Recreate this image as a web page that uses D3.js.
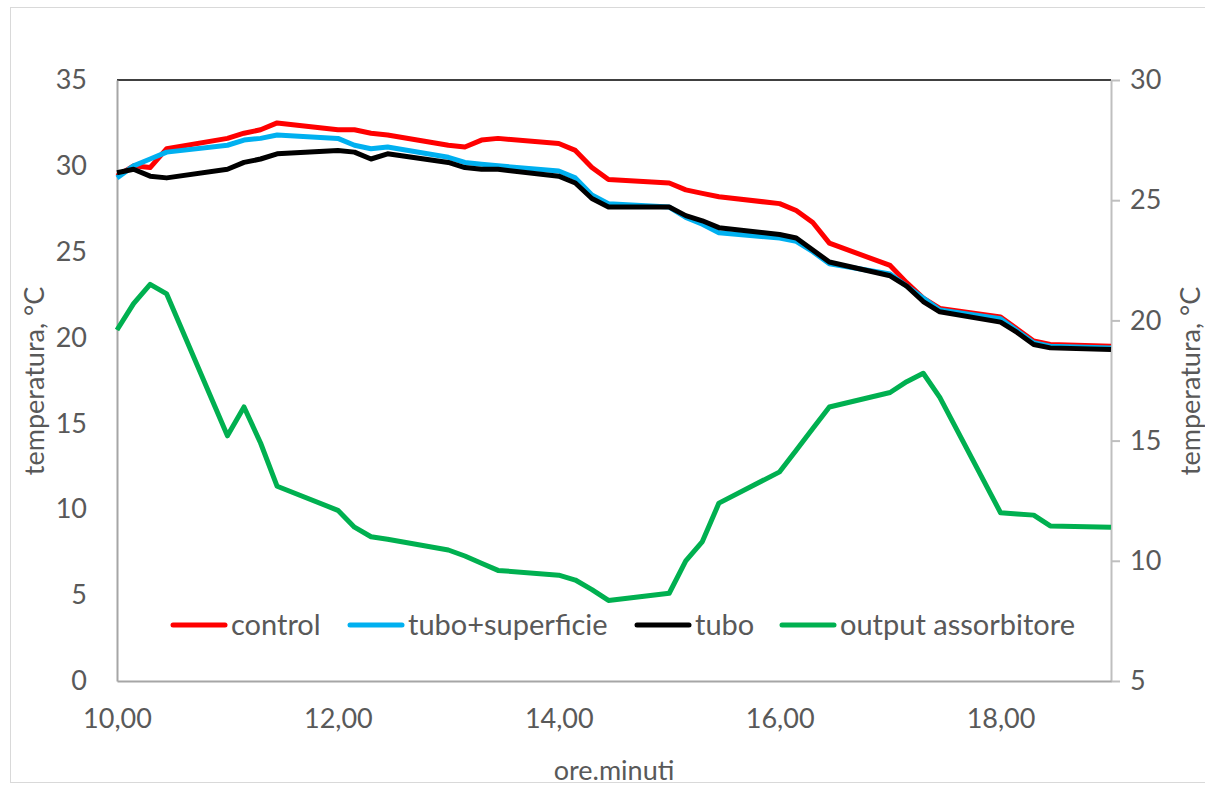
<!DOCTYPE html>
<html>
<head>
<meta charset="utf-8">
<script src="https://cdn.jsdelivr.net/npm/d3@7"></script>
<style>
  body { margin: 0; background: #fff; }
  text { font-family: Lato, "Open Sans", sans-serif; fill: #595959; }
</style>
</head>
<body>
<svg id="chart" width="1205" height="787"></svg>
<script>
// time of day as ore.minuti (hours.minutes), one reading every 15 min
var times = [10.00, 10.15, 10.30, 10.45, 11.00, 11.15, 11.30, 11.45,
             12.00, 12.15, 12.30, 12.45, 13.00, 13.15, 13.30, 13.45,
             14.00, 14.15, 14.30, 14.45, 15.00, 15.15, 15.30, 15.45,
             16.00, 16.15, 16.30, 16.45, 17.00, 17.15, 17.30, 17.45,
             18.00, 18.15, 18.30, 18.45, 19.00];

// left axis series
var control = [29.4, 30.0, 29.9, 31.0, 31.6, 31.9, 32.1, 32.5,
               32.1, 32.1, 31.9, 31.8, 31.2, 31.1, 31.5, 31.6,
               31.3, 30.9, 29.9, 29.2, 29.0, 28.6, 28.4, 28.2,
               27.8, 27.4, 26.7, 25.5, 24.2, 23.2, 22.3, 21.7,
               21.2, 20.5, 19.8, 19.6, 19.5];
var tuboSup = [29.3, 30.0, 30.4, 30.8, 31.2, 31.5, 31.6, 31.8,
               31.6, 31.2, 31.0, 31.1, 30.5, 30.2, 30.1, 30.0,
               29.7, 29.3, 28.3, 27.8, 27.6, 27.0, 26.6, 26.1,
               25.8, 25.6, 25.0, 24.3, 23.7, 23.0, 22.3, 21.6,
               21.1, 20.4, 19.7, 19.5, 19.4];
var tubo = [29.6, 29.8, 29.4, 29.3, 29.8, 30.2, 30.4, 30.7,
            30.9, 30.8, 30.4, 30.7, 30.2, 29.9, 29.8, 29.8,
            29.4, 29.0, 28.1, 27.6, 27.6, 27.1, 26.8, 26.4,
            26.0, 25.8, 25.1, 24.4, 23.6, 23.0, 22.1, 21.5,
            20.9, 20.3, 19.6, 19.4, 19.3];
// right axis series
var output = [19.6, 20.7, 21.5, 21.1, 15.2, 16.4, 14.9, 13.1,
              12.1, 11.4, 11.0, 10.9, 10.45, 10.2, 9.9, 9.6,
              9.4, 9.2, 8.8, 8.35, 8.65, 10.0, 10.8, 12.4,
              13.7, 14.6, 15.5, 16.4, 17.0, 17.45, 17.8, 16.8,
              12.0, 11.95, 11.9, 11.45, 11.4];

var xTicks = [10, 12, 14, 16, 18];
var yLeftTicks = [0, 5, 10, 15, 20, 25, 30, 35];
var yRightTicks = [5, 10, 15, 20, 25, 30];

var svg = d3.select("#chart");
var plotL = 117, plotR = 1111, plotT = 80, plotB = 681;

var x = d3.scaleLinear().domain([10, 19]).range([plotL, plotR]);
var y = d3.scaleLinear().domain([0, 35]).range([plotB, plotT]);
var y2 = d3.scaleLinear().domain([5, 30]).range([plotB, plotT]);

// outer chart border
svg.append("rect").attr("x", 10.5).attr("y", 7.5).attr("width", 1200).attr("height", 775)
  .attr("fill", "none").attr("stroke", "#d9d9d9");

// top frame line
svg.append("line").attr("x1", plotL).attr("x2", plotR).attr("y1", plotT).attr("y2", plotT)
  .attr("stroke", "#000").attr("stroke-width", 1.5);

// left axis
var gl = svg.append("g").attr("transform", "translate(" + plotL + ",0)")
  .call(d3.axisLeft(y).tickValues(yLeftTicks).tickSize(0).tickPadding(30));
gl.select(".domain").attr("stroke", "#a6a6a6").attr("stroke-width", 2);
gl.selectAll("text").style("font-size", "27px").attr("fill", "#595959");

// right axis
var gr = svg.append("g").attr("transform", "translate(" + plotR + ",0)")
  .call(d3.axisRight(y2).tickValues(yRightTicks).tickSize(9).tickPadding(10).tickSizeOuter(0));
gr.select(".domain").attr("stroke", "#bfbfbf").attr("stroke-width", 2);
gr.selectAll("line").attr("stroke", "#bfbfbf").attr("stroke-width", 2);
gr.selectAll("text").style("font-size", "27px").attr("fill", "#595959");

// bottom axis
var gb = svg.append("g").attr("transform", "translate(0," + plotB + ")")
  .call(d3.axisBottom(x).tickValues(xTicks).tickSize(0).tickPadding(28)
    .tickFormat(function (d) { return d3.format(".2f")(d).replace(".", ","); }));
gb.select(".domain").attr("stroke", "#a6a6a6").attr("stroke-width", 2);
gb.selectAll("text").style("font-size", "27px").attr("fill", "#595959");

// series
var series = [
  { name: "control", values: control, color: "#ff0000", scale: y },
  { name: "tubo+superficie", values: tuboSup, color: "#00b0f0", scale: y },
  { name: "tubo", values: tubo, color: "#000000", scale: y },
  { name: "output assorbitore", values: output, color: "#00b050", scale: y2 }
];

series.forEach(function (s) {
  var line = d3.line()
    .x(function (d, i) { return x(times[i]); })
    .y(function (d) { return s.scale(d); });
  svg.append("path").datum(s.values)
    .attr("d", line)
    .attr("fill", "none")
    .attr("stroke", s.color)
    .attr("stroke-width", 5)
    .attr("stroke-linejoin", "round");
});

// legend
var legendX = [173, 350, 637, 782];
var lg = svg.append("g");
series.forEach(function (s, i) {
  lg.append("line").attr("x1", legendX[i]).attr("x2", legendX[i] + 52)
    .attr("y1", 625).attr("y2", 625)
    .attr("stroke", s.color).attr("stroke-width", 5).attr("stroke-linecap", "round");
  lg.append("text").attr("x", legendX[i] + 58).attr("y", 635)
    .style("font-size", "29px").text(s.name);
});

// axis titles
svg.append("text").attr("transform", "translate(44,381) rotate(-90)")
  .attr("text-anchor", "middle").style("font-size", "27px").text("temperatura, °C");
svg.append("text").attr("transform", "translate(1200,381) rotate(-90)")
  .attr("text-anchor", "middle").style("font-size", "27px").text("temperatura, °C");
svg.append("text").attr("x", 614).attr("y", 780)
  .attr("text-anchor", "middle").style("font-size", "27px").text("ore.minuti");
</script>
</body>
</html>
